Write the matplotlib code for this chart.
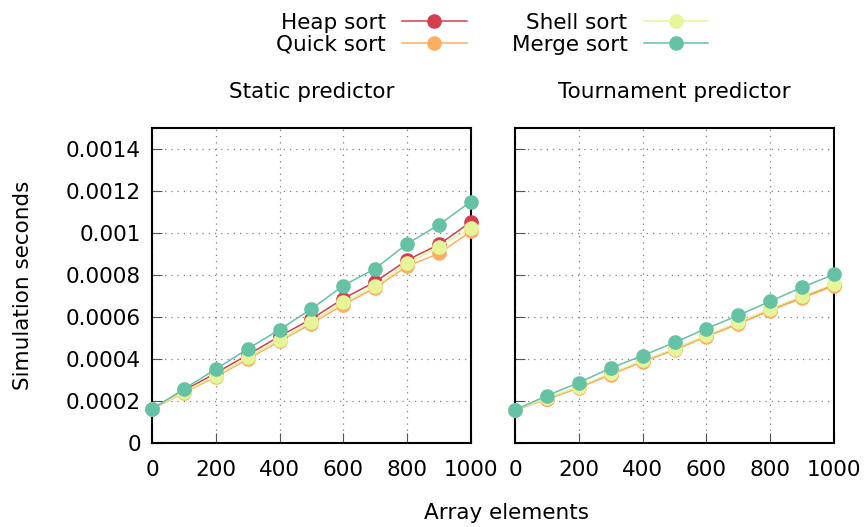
import matplotlib
matplotlib.use("Agg")
import matplotlib.pyplot as plt

# array sizes
elements = [0, 100, 200, 300, 400, 500, 600, 700, 800, 900, 1000]

# static predictor (seconds)
static_heap = [0.000162, 0.000250, 0.000333, 0.000420, 0.000508, 0.000591,
               0.000688, 0.000768, 0.000871, 0.000946, 0.001053]
static_quick = [0.000160, 0.000240, 0.000314, 0.000400, 0.000484, 0.000569,
                0.000659, 0.000739, 0.000842, 0.000903, 0.001008]
static_shell = [0.000161, 0.000245, 0.000320, 0.000408, 0.000492, 0.000578,
                0.000670, 0.000747, 0.000855, 0.000935, 0.001024]
static_merge = [0.000161, 0.000257, 0.000352, 0.000448, 0.000540, 0.000639,
                0.000750, 0.000831, 0.000949, 0.001040, 0.001150]

# tournament predictor (seconds)
tourn_heap = [0.000158, 0.000210, 0.000265, 0.000329, 0.000389, 0.000446,
              0.000509, 0.000570, 0.000634, 0.000694, 0.000753]
tourn_quick = [0.000158, 0.000208, 0.000262, 0.000326, 0.000386, 0.000443,
               0.000506, 0.000567, 0.000631, 0.000690, 0.000749]
tourn_shell = [0.000158, 0.000213, 0.000269, 0.000333, 0.000393, 0.000450,
               0.000513, 0.000575, 0.000639, 0.000699, 0.000758]
tourn_merge = [0.000158, 0.000225, 0.000288, 0.000357, 0.000416, 0.000479,
               0.000545, 0.000608, 0.000675, 0.000742, 0.000803]

labels = ["Heap sort", "Quick sort", "Shell sort", "Merge sort"]
colors = ["#d53e4f", "#fdae61", "#e6f598", "#66c2a5"]
titles = ["Static predictor", "Tournament predictor"]

yticks = [0, 0.0002, 0.0004, 0.0006, 0.0008, 0.001, 0.0012, 0.0014]
ytick_labels = ["0", "0.0002", "0.0004", "0.0006", "0.0008", "0.001", "0.0012", "0.0014"]
xticks = [0, 200, 400, 600, 800, 1000]

fs = 15.5
plt.rcParams["font.family"] = "DejaVu Sans"
plt.rcParams["font.size"] = fs

fig = plt.figure(figsize=(8.65, 5.27), dpi=100)
ax1 = fig.add_axes([0.1757, 0.1594, 0.3688, 0.5976])
ax2 = fig.add_axes([0.5954, 0.1594, 0.3688, 0.5976])

panels = [
    (ax1, [static_heap, static_quick, static_shell, static_merge]),
    (ax2, [tourn_heap, tourn_quick, tourn_shell, tourn_merge]),
]

for i, (ax, series) in enumerate(panels):
    for vals, lab, col in zip(series, labels, colors):
        ax.plot(elements, vals, color=col, lw=1.1, marker="o", markersize=9.5,
                label=lab, clip_on=False, zorder=3)
    ax.set_xlim(0, 1000)
    ax.set_ylim(0, 0.0015)
    ax.set_xticks(xticks)
    ax.set_yticks(yticks)
    if i == 0:
        ax.set_yticklabels(ytick_labels)
    else:
        ax.set_yticklabels([])
    ax.grid(True, linestyle=(0, (1, 4)), color="#808080", lw=0.9)
    ax.tick_params(direction="in", length=7, width=0.8, color="#555555")
    ax.tick_params(axis="x", pad=12)
    ax.tick_params(axis="y", pad=8)
    for sp in ax.spines.values():
        sp.set_linewidth(1.5)
    ax.set_title(titles[i], pad=22, fontsize=fs)

fig.text(0.027, 0.458, "Simulation seconds", rotation=90, va="center", ha="center")
fig.text(0.586, 0.026, "Array elements", ha="center", va="center")

handles, labs = ax1.get_legend_handles_labels()
fig.legend(handles, labs, ncol=2, markerfirst=False, frameon=False,
           loc="upper center", bbox_to_anchor=(0.569, 1.013),
           handlelength=3.0, columnspacing=2.1, labelspacing=0.1,
           handletextpad=0.75, fontsize=fs)

fig.savefig("out.png", dpi=100)
